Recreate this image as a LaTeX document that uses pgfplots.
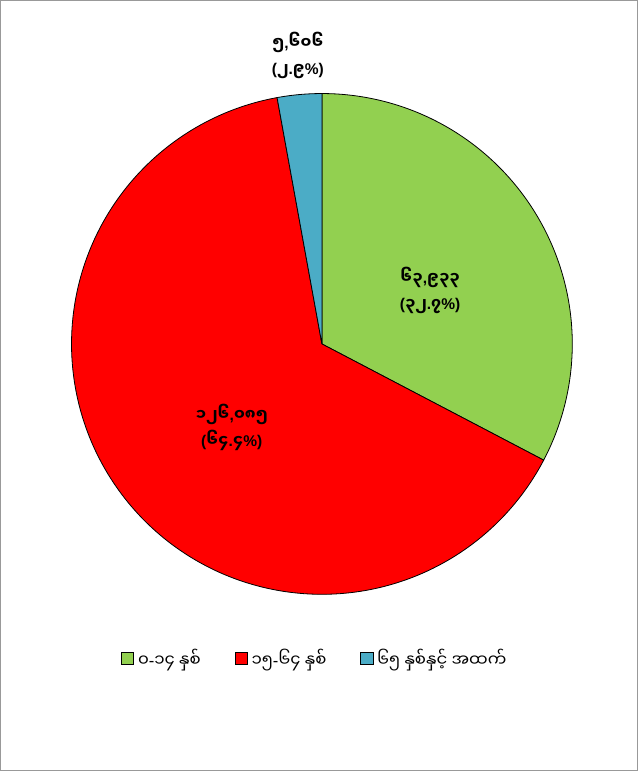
\documentclass[border=0pt]{standalone}
\usepackage{pgfplots}
\pgfplotsset{compat=1.18}
\usepackage{fontspec}
\setmainfont{Liberation Sans}
\newfontfamily\mm[Script=Myanmar]{Noto Sans Myanmar UI}
\newcommand\lat[1]{{\rmfamily #1}}
\definecolor{cGreen}{HTML}{92D050}
\definecolor{cRed}{HTML}{FF0000}
\definecolor{cBlue}{HTML}{4BACC6}
\tikzset{dlabel/.style={font=\mm\bfseries\fontsize{15.5}{26}\selectfont, align=center}}
\begin{document}
\begin{tikzpicture}
% counts in thousands: 0-14, 15-64, 65+
\pgfmathsetmacro{\vA}{63.933}
\pgfmathsetmacro{\vB}{126.085}
\pgfmathsetmacro{\vC}{5.606}
\pgfmathsetmacro{\tot}{\vA+\vB+\vC}
\pgfmathsetmacro{\aA}{90}
\pgfmathsetmacro{\aB}{90-360*(\vA/\tot)}
\pgfmathsetmacro{\aC}{\aB-360*(\vB/\tot)}
\pgfmathsetmacro{\aD}{-270}
\begin{axis}[
    x=1pt, y=1pt,
    xmin=0, xmax=638, ymin=0, ymax=771,
    hide axis, clip=false,
    legend columns=3,
    legend style={at={(axis cs:315,113)}, anchor=center, draw=none, fill=none,
        font=\mm\fontsize{16.5}{18}\selectfont,
        /tikz/every odd column/.append style={column sep=2pt},
        /tikz/every even column/.append style={column sep=32pt}},
    legend image code/.code={\draw[#1, line width=0.7pt] (0pt,-6pt) rectangle (12pt,6pt);},
]
\draw[gray!80, line width=0.8pt] (axis cs:1,1) rectangle (axis cs:637,770);
\addplot[fill=cGreen, draw=black, line width=0.8pt, domain=\aB:\aA, samples=120, variable=\t]
    ({322+250*cos(\t)}, {427+250*sin(\t)}) -- (axis cs:322,427) -- cycle;
\addlegendentry{၀\lat{-}၁၄ နှစ်}
\addplot[fill=cRed, draw=black, line width=0.8pt, domain=\aC:\aB, samples=200, variable=\t]
    ({322+250*cos(\t)}, {427+250*sin(\t)}) -- (axis cs:322,427) -- cycle;
\addlegendentry{၁၅\lat{-}၆၄ နှစ်}
\addplot[fill=cBlue, draw=black, line width=0.8pt, domain=\aD:\aC, samples=30, variable=\t]
    ({322+250*cos(\t)}, {427+250*sin(\t)}) -- (axis cs:322,427) -- cycle;
\addlegendentry{၆၅ နှစ်နှင့် အထက်}
\node[dlabel] at (axis cs:430,480) {၆၃\lat{,}၉၃၃\\\lat{(}၃၂\lat{.}၇\lat{\%)}};
\node[dlabel] at (axis cs:232,344) {၁၂၆\lat{,}၀၈၅\\\lat{(}၆၄\lat{.}၄\lat{\%)}};
\node[dlabel] at (axis cs:298,715) {၅\lat{,}၆၀၆\\\lat{(}၂\lat{.}၉\lat{\%)}};
\end{axis}
\end{tikzpicture}
\end{document}
